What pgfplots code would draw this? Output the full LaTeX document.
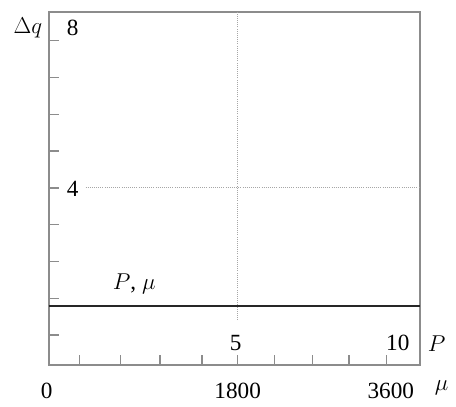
\documentclass[border=0pt]{standalone}
\usepackage{fontspec}
\setmainfont{Liberation Serif}
\usepackage{pgfplots}
\pgfplotsset{compat=1.18}
\begin{document}
\fontsize{17.5pt}{21pt}\selectfont
\begin{tikzpicture}
\begin{axis}[
  name=ax,
  scale only axis,
  width=279.75pt, height=266.25pt,
  xmin=0, xmax=373,
  ymin=-0.81, ymax=8.78,
  axis line style={draw=black!45, line width=1.3pt},
  xtick={31,72,112,154,190,227,265,302,340},
  ytick={0,1,2,3,4,5,6,7,8},
  xticklabels={}, yticklabels={},
  tick style={draw=black!45, line width=1pt},
  xtick pos=bottom, ytick pos=left,
  major tick length=7.5pt,
  tick align=inside,
  clip=false,
]
% dotted guides
\addplot[black!35, densely dotted, line width=0.6pt] coordinates {(37,4) (373,4)};
\addplot[black!35, densely dotted, line width=0.6pt] coordinates {(190,0.41) (190,8.78)};
% constant curve P, mu
\addplot[black!85, line width=1.5pt] coordinates {(0,0.78) (373,0.78)};
% labels
\node at (axis cs:24,8.35) {8};
\node at (axis cs:24,3.97) {4};
\node at (axis cs:-21,8.35) {$\Delta q$};
\node at (axis cs:86,1.38) {$P$, $\mu$};
\node at (axis cs:188,-0.22) {5};
\node at (axis cs:351,-0.22) {10};
\node at (axis cs:390,-0.22) {$P$};
\node at (axis cs:-2,-1.52) {0};
\node at (axis cs:190,-1.52) {1800};
\node at (axis cs:344,-1.52) {3600};
\node at (axis cs:395,-1.42) {$\mu$};
\end{axis}
\path[use as bounding box] ([shift={(-36.75pt,-27pt)}]ax.south west) rectangle ([shift={(25.5pt,9pt)}]ax.north east);
\end{tikzpicture}
\end{document}
